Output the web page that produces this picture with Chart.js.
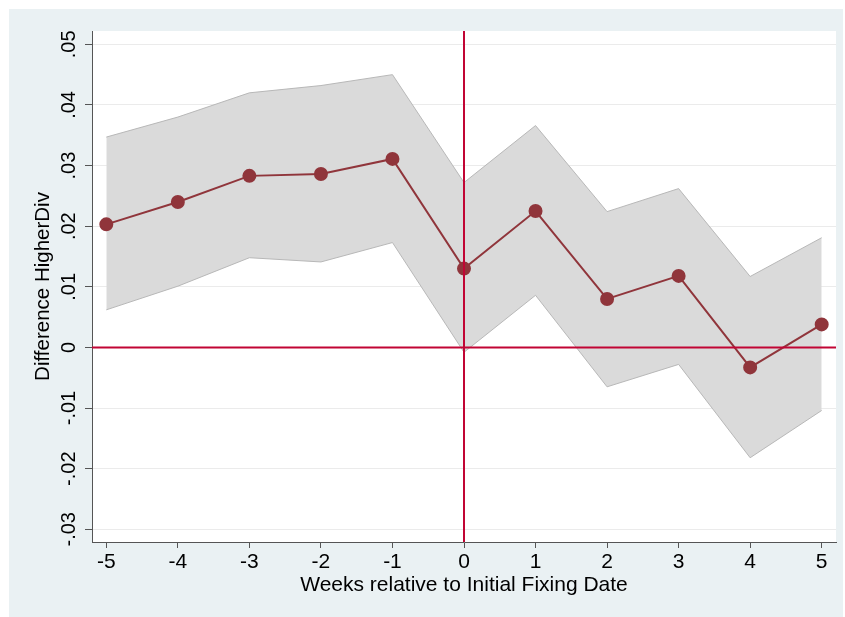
<!DOCTYPE html>
<html>
<head>
<meta charset="utf-8">
<style>
  html, body { margin: 0; padding: 0; background: #fff; }
  #wrap { width: 845px; height: 617px; }
</style>
<script src="https://cdn.jsdelivr.net/npm/chart.js@4.4.1/dist/chart.umd.min.js"></script>
</head>
<body>
<div id="wrap"><canvas id="canvas"></canvas></div>
<script>
// weeks relative to the initial fixing date
var weeks = [-5, -4, -3, -2, -1, 0, 1, 2, 3, 4, 5];
// point estimates and 95% band
var estimate = [0.0203, 0.0240, 0.0283, 0.0286, 0.0311, 0.0130, 0.0225, 0.0080, 0.0118, -0.0033, 0.0038];
var upper    = [0.0347, 0.0380, 0.0420, 0.0432, 0.0450, 0.0272, 0.0366, 0.0224, 0.0262, 0.0117, 0.0181];
var lower    = [0.0062, 0.0101, 0.0148, 0.0141, 0.0173, -0.0008, 0.0086, -0.0065, -0.0028, -0.0182, -0.0104];

var yTickValues = [-0.03, -0.02, -0.01, 0, 0.01, 0.02, 0.03, 0.04, 0.05];
var yTickLabels = ['-.03', '-.02', '-.01', '0', '.01', '.02', '.03', '.04', '.05'];
var xTickValues = weeks;

function pts(vals) {
  return weeks.map(function (w, i) { return { x: w, y: vals[i] }; });
}

var FONT = 'Liberation Sans, Arial, Helvetica, sans-serif';

// light frame round the plot and red reference lines at x=0 / y=0
var stataFrame = {
  id: 'stataFrame',
  beforeDraw: function (chart) {
    var ctx = chart.ctx, a = chart.chartArea;
    ctx.save();
    ctx.fillStyle = '#ffffff';
    ctx.fillRect(0, 0, chart.width, chart.height);
    ctx.fillStyle = '#eaf1f3';
    ctx.fillRect(9, 9, chart.width - 11, chart.height - 9);
    ctx.fillStyle = '#ffffff';
    ctx.fillRect(a.left, a.top, a.right - a.left, a.bottom - a.top);
    ctx.restore();
  },
  afterDatasetsDraw: function (chart) {
    var ctx = chart.ctx, a = chart.chartArea;
    var x0 = chart.scales.x.getPixelForValue(0);
    var y0 = chart.scales.y.getPixelForValue(0);
    ctx.save();
    ctx.strokeStyle = '#c10534';
    ctx.lineWidth = 2;
    ctx.beginPath();
    ctx.moveTo(x0, a.top); ctx.lineTo(x0, a.bottom);
    ctx.moveTo(a.left, y0); ctx.lineTo(a.right, y0);
    ctx.stroke();
    ctx.restore();
  },
  afterDraw: function (chart) {
    var ctx = chart.ctx, ys = chart.scales.y;
    ctx.save();
    ctx.fillStyle = '#000';
    ctx.font = '20px ' + FONT;
    ctx.textAlign = 'center';
    ctx.textBaseline = 'middle';
    yTickValues.forEach(function (v, i) {
      var py = ys.getPixelForValue(v);
      ctx.save();
      ctx.translate(69, py);
      ctx.rotate(-Math.PI / 2);
      ctx.fillText(yTickLabels[i], 0, 0);
      ctx.restore();
    });
    ctx.save();
    ctx.translate(43, (chart.chartArea.top + chart.chartArea.bottom) / 2);
    ctx.rotate(-Math.PI / 2);
    ctx.font = '20.5px ' + FONT;
    ctx.fillText('Difference HigherDiv', 0, 0);
    ctx.restore();
    ctx.restore();
  }
};

new Chart(document.getElementById('canvas'), {
  type: 'scatter',
  data: {
    datasets: [{
      label: 'upper',
      data: pts(upper),
      showLine: true,
      borderColor: '#b8b8b8',
      borderWidth: 1,
      pointRadius: 0,
      backgroundColor: '#dadada',
      fill: '+1',
      order: 3
    }, {
      label: 'lower',
      data: pts(lower),
      showLine: true,
      borderColor: '#b8b8b8',
      borderWidth: 1,
      pointRadius: 0,
      fill: false,
      order: 2
    }, {
      label: 'estimate',
      data: pts(estimate),
      showLine: true,
      borderColor: '#90353b',
      borderWidth: 2,
      pointRadius: 6,
      pointBackgroundColor: '#90353b',
      pointBorderColor: '#90353b',
      fill: false,
      order: 1
    }]
  },
  options: {
    responsive: true,
    maintainAspectRatio: false,
    animation: false,
    layout: { padding: { top: 31, right: 9, left: 0, bottom: 0 } },
    plugins: {
      legend: { display: false },
      tooltip: { enabled: false },
      filler: { propagate: false }
    },
    scales: {
      x: {
        type: 'linear',
        min: -5.2,
        max: 5.2,
        afterBuildTicks: function (s) { s.ticks = xTickValues.map(function (v) { return { value: v }; }); },
        afterFit: function (s) { s.height = 75; },
        grid: { drawOnChartArea: false, color: '#555', tickLength: 6, lineWidth: 1 },
        border: { color: '#555', width: 1 },
        ticks: { color: '#000', font: { family: FONT, size: 21 }, padding: 2, maxRotation: 0, autoSkip: false },
        title: {
          display: true,
          text: 'Weeks relative to Initial Fixing Date',
          color: '#000',
          font: { family: FONT, size: 21 },
          padding: { top: 0, bottom: 19 }
        }
      },
      y: {
        type: 'linear',
        min: -0.0321,
        max: 0.0522,
        afterBuildTicks: function (s) { s.ticks = yTickValues.map(function (v) { return { value: v }; }); },
        afterFit: function (s) { s.width = 92; },
        grid: { color: '#ebebeb', tickColor: '#555', tickLength: 7, lineWidth: 1 },
        border: { color: '#555', width: 1 },
        ticks: { display: false }
      }
    }
  },
  plugins: [stataFrame]
});
</script>
</body>
</html>
